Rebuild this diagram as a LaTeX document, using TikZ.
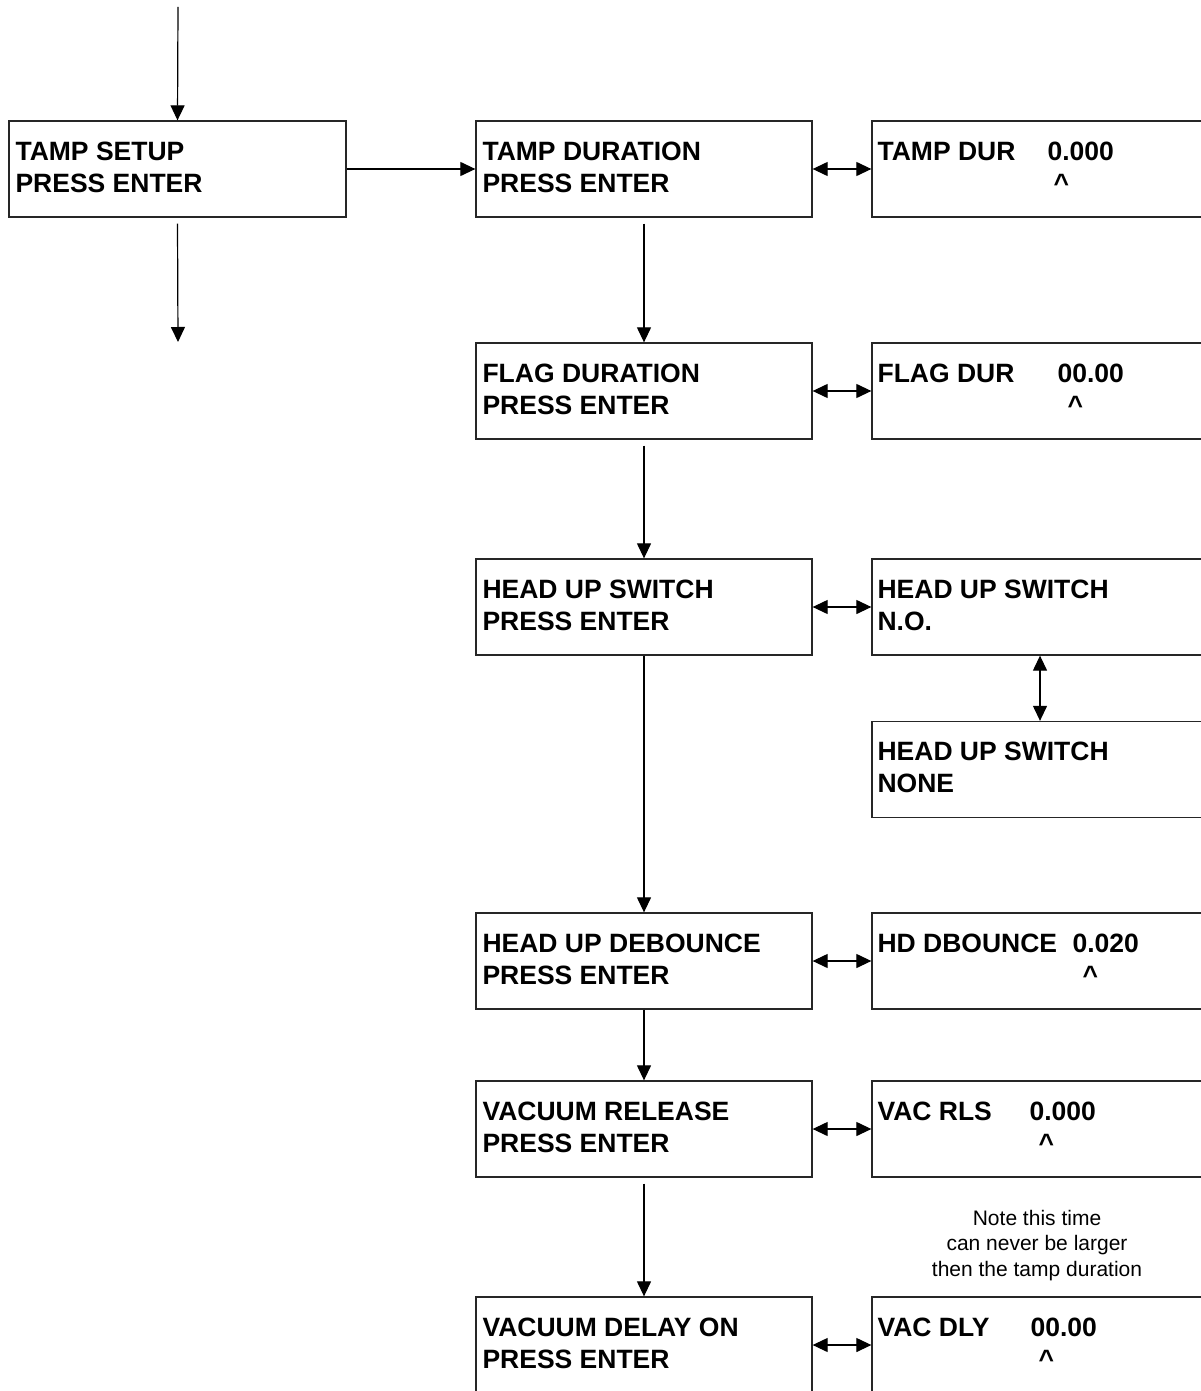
\documentclass[tikz,border=0pt]{standalone}
\usepackage{fontspec}
\setmainfont{Liberation Sans}
\usetikzlibrary{arrows.meta,calc}
\tikzset{
  box/.style={draw=black!85, line width=1.3pt, rectangle, minimum width=336pt, minimum height=96pt, inner sep=0pt},
  lbl/.style={font=\fontsize{26.5}{32}\selectfont\bfseries, anchor=base west, inner sep=0pt},
  caret/.style={font=\fontsize{26.5}{32}\selectfont\bfseries, anchor=base, inner sep=0pt},
  conn/.style={line width=1.2pt, -{Triangle[length=15pt,width=14pt]}},
  dconn/.style={line width=1.2pt, {Triangle[length=15pt,width=14pt]}-{Triangle[length=15pt,width=14pt]}},
  notetxt/.style={font=\fontsize{21}{25.5}\selectfont, align=center, inner sep=0pt}
}
\begin{document}
\begin{tikzpicture}[x=1pt,y=-1pt]
\useasboundingbox (0,0) rectangle (1201,1391);
\clip (0,0) rectangle (1201,1391);
\fill[white] (0,0) rectangle (1201,1391);

% left column
\node[box, minimum width=337pt] (ts) at (177.5,169) {};
\node[lbl] (ts1) at ($(ts.north west)+(7,40)$) {TAMP SETUP};
\node[lbl] (ts2) at ($(ts.north west)+(7,72)$) {PRESS ENTER};
\coordinate (topin) at (178,7);
\coordinate (botout) at (178,342);

% middle column
\node[box] (td) at (644,169) {};
\node[box] (fd) at (644,391) {};
\node[box] (hs) at (644,607) {};
\node[box] (hd) at (644,961) {};
\node[box] (vr) at (644,1129) {};
\node[box] (vd) at (644,1345) {};
\foreach \n/\t in {td/TAMP DURATION, fd/FLAG DURATION, hs/HEAD UP SWITCH, hd/HEAD UP DEBOUNCE, vr/VACUUM RELEASE, vd/VACUUM DELAY ON}{
  \node[lbl] (\n1) at ($(\n.north west)+(7,40)$) {\t};
  \node[lbl] (\n2) at ($(\n.north west)+(7,72)$) {PRESS ENTER};
}

% right column
\node[box] (tdr) at (1040,169) {};
\node[box] (fdr) at (1040,391) {};
\node[box] (hsr) at (1040,607) {};
\node[box] (hsn) at (1040,769.5) {};
\node[box] (hdr) at (1040,961) {};
\node[box] (vrr) at (1040,1129) {};
\node[box] (vdr) at (1040,1345) {};

\node[lbl] (tdra) at ($(tdr.north west)+(6,40)$) {TAMP DUR};
\node[lbl] (tdrb) at ($(tdr.north west)+(176,40)$) {0.000};
\node[caret] (tdrc) at ($(tdr.north west)+(190,72)$) {\textasciicircum};

\node[lbl] (fdra) at ($(fdr.north west)+(6,40)$) {FLAG DUR};
\node[lbl] (fdrb) at ($(fdr.north west)+(186,40)$) {00.00};
\node[caret] (fdrc) at ($(fdr.north west)+(204,72)$) {\textasciicircum};

\node[lbl] (hsra) at ($(hsr.north west)+(6,40)$) {HEAD UP SWITCH};
\node[lbl] (hsrb) at ($(hsr.north west)+(6,72)$) {N.O.};

\node[lbl] (hsna) at ($(hsn.north west)+(6,40)$) {HEAD UP SWITCH};
\node[lbl] (hsnb) at ($(hsn.north west)+(6,72)$) {NONE};

\node[lbl] (hdra) at ($(hdr.north west)+(6,40)$) {HD DBOUNCE};
\node[lbl] (hdrb) at ($(hdr.north west)+(201,40)$) {0.020};
\node[caret] (hdrc) at ($(hdr.north west)+(219,72)$) {\textasciicircum};

\node[lbl] (vrra) at ($(vrr.north west)+(6,40)$) {VAC RLS};
\node[lbl] (vrrb) at ($(vrr.north west)+(158,40)$) {0.000};
\node[caret] (vrrc) at ($(vrr.north west)+(175,72)$) {\textasciicircum};

\node[lbl] (vdra) at ($(vdr.north west)+(6,40)$) {VAC DLY};
\node[lbl] (vdrb) at ($(vdr.north west)+(159,40)$) {00.00};
\node[caret] (vdrc) at ($(vdr.north west)+(175,72)$) {\textasciicircum};

% note
\node[notetxt, anchor=base] (note) at (1037,1276) {Note this time\\can never be larger\\then the tamp duration};

% connectors
\draw[conn] (topin) -- (ts.north);
\draw[conn] ([yshift=-6pt]ts.south) -- (botout);
\draw[conn] (ts.east) -- (td.west);
\draw[conn] ([yshift=-6pt]td.south) -- (fd.north);
\draw[conn] ([yshift=-6pt]fd.south) -- (hs.north);
\draw[conn] (hs.south) -- (hd.north);
\draw[conn] (hd.south) -- (vr.north);
\draw[conn] ([yshift=-6pt]vr.south) -- (vd.north);

\draw[dconn] (td.east) -- (tdr.west);
\draw[dconn] (fd.east) -- (fdr.west);
\draw[dconn] (hs.east) -- (hsr.west);
\draw[dconn] (hd.east) -- (hdr.west);
\draw[dconn] (vr.east) -- (vrr.west);
\draw[dconn] (vd.east) -- (vdr.west);
\draw[dconn] (hsr.south) -- (hsn.north);
\end{tikzpicture}
\end{document}
